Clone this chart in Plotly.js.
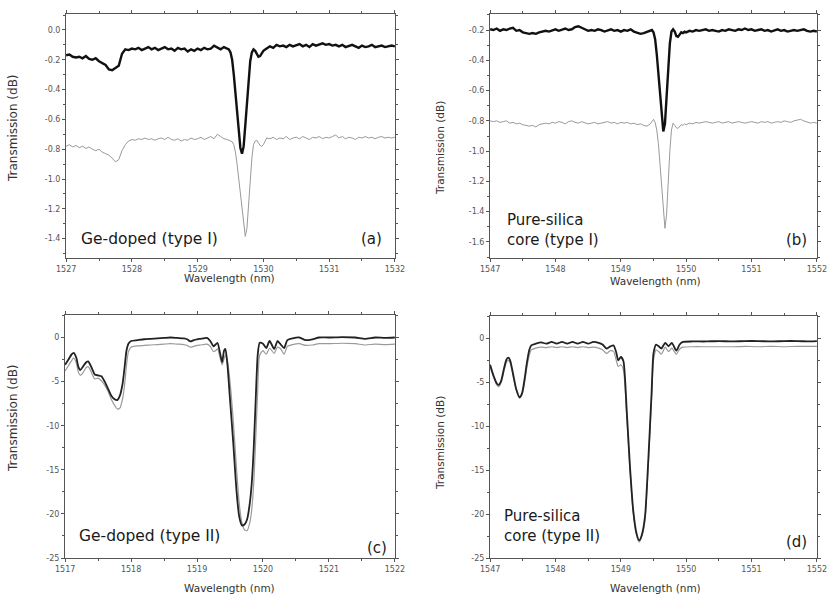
<!DOCTYPE html>
<html>
<head>
<meta charset="utf-8">
<script src="https://cdn.plot.ly/plotly-3.0.1.min.js"></script>
<style>html,body{margin:0;padding:0;background:#fff;}#chart{width:827px;height:597px;}</style>
</head>
<body>
<div id="chart"></div>
<script>
// ---------- Panel (a): Ge-doped (type I) ----------
const xA = [1527.00,1527.05,1527.10,1527.15,1527.20,1527.25,1527.30,1527.35,1527.40,1527.45,1527.50,1527.55,1527.60,1527.65,1527.70,1527.75,1527.80,1527.85,1527.90,1527.95,
1528.00,1528.05,1528.10,1528.15,1528.20,1528.25,1528.30,1528.35,1528.40,1528.45,1528.50,1528.55,1528.60,1528.65,1528.70,1528.75,1528.80,1528.85,1528.90,1528.95,
1529.00,1529.05,1529.10,1529.15,1529.20,1529.25,1529.30,1529.35,1529.40,1529.45,1529.475,1529.50,1529.525,1529.55,1529.575,1529.60,1529.625,1529.65,1529.675,1529.70,
1529.725,1529.75,1529.775,1529.80,1529.825,1529.85,1529.875,1529.90,1529.925,1529.95,1529.975,
1530.00,1530.05,1530.10,1530.15,1530.20,1530.25,1530.30,1530.35,1530.40,1530.45,1530.50,1530.55,1530.60,1530.65,1530.70,1530.75,1530.80,1530.85,1530.90,1530.95,
1531.00,1531.05,1531.10,1531.15,1531.20,1531.25,1531.30,1531.35,1531.40,1531.45,1531.50,1531.55,1531.60,1531.65,1531.70,1531.75,1531.80,1531.85,1531.90,1531.95,1532.00];
const yA_black = [-0.170,-0.165,-0.180,-0.185,-0.180,-0.190,-0.175,-0.195,-0.200,-0.190,-0.210,-0.220,-0.235,-0.265,-0.270,-0.255,-0.240,-0.160,-0.130,-0.135,
-0.125,-0.130,-0.120,-0.135,-0.125,-0.115,-0.130,-0.120,-0.135,-0.125,-0.115,-0.130,-0.125,-0.140,-0.120,-0.130,-0.125,-0.145,-0.130,-0.140,
-0.125,-0.135,-0.120,-0.130,-0.125,-0.105,-0.120,-0.130,-0.115,-0.125,-0.130,-0.150,-0.200,-0.300,-0.420,-0.550,-0.680,-0.790,-0.830,-0.780,
-0.640,-0.480,-0.330,-0.210,-0.150,-0.130,-0.140,-0.165,-0.180,-0.175,-0.160,
-0.140,-0.125,-0.110,-0.120,-0.100,-0.110,-0.105,-0.115,-0.100,-0.110,-0.105,-0.095,-0.110,-0.100,-0.115,-0.095,-0.105,-0.100,-0.090,-0.100,
-0.095,-0.105,-0.100,-0.110,-0.100,-0.115,-0.105,-0.100,-0.110,-0.120,-0.105,-0.115,-0.110,-0.100,-0.115,-0.110,-0.105,-0.115,-0.110,-0.105,-0.110];
const yA_gray = [-0.780,-0.770,-0.785,-0.775,-0.790,-0.780,-0.795,-0.785,-0.800,-0.810,-0.800,-0.820,-0.830,-0.840,-0.860,-0.885,-0.870,-0.810,-0.770,-0.745,
-0.735,-0.740,-0.730,-0.735,-0.725,-0.735,-0.730,-0.740,-0.730,-0.725,-0.735,-0.720,-0.735,-0.740,-0.730,-0.745,-0.735,-0.740,-0.725,-0.735,
-0.730,-0.720,-0.735,-0.725,-0.715,-0.730,-0.700,-0.715,-0.730,-0.735,-0.740,-0.745,-0.750,-0.770,-0.820,-0.900,-1.000,-1.100,-1.210,-1.320,
-1.385,-1.330,-1.180,-1.000,-0.860,-0.770,-0.745,-0.740,-0.760,-0.775,-0.780,
-0.770,-0.725,-0.730,-0.720,-0.735,-0.725,-0.730,-0.715,-0.735,-0.725,-0.720,-0.730,-0.715,-0.725,-0.735,-0.720,-0.725,-0.715,-0.730,-0.720,
-0.725,-0.715,-0.705,-0.725,-0.715,-0.730,-0.720,-0.725,-0.735,-0.720,-0.725,-0.715,-0.725,-0.720,-0.730,-0.720,-0.715,-0.725,-0.720,-0.725,-0.720];

// ---------- Panel (b): Pure-silica core (type I) ----------
const xB = [1547.00,1547.05,1547.10,1547.15,1547.20,1547.25,1547.30,1547.35,1547.40,1547.45,1547.50,1547.55,1547.60,1547.65,1547.70,1547.75,1547.80,1547.85,1547.90,1547.95,
1548.00,1548.05,1548.10,1548.15,1548.20,1548.25,1548.30,1548.35,1548.40,1548.45,1548.50,1548.55,1548.60,1548.65,1548.70,1548.75,1548.80,1548.85,1548.90,1548.95,
1549.00,1549.05,1549.10,1549.15,1549.20,1549.25,1549.30,1549.35,1549.40,1549.45,1549.475,1549.50,1549.525,1549.55,1549.575,1549.60,1549.625,1549.65,1549.675,1549.70,
1549.725,1549.75,1549.775,1549.80,1549.825,1549.85,1549.875,1549.90,1549.925,1549.95,1549.975,
1550.00,1550.05,1550.10,1550.15,1550.20,1550.25,1550.30,1550.35,1550.40,1550.45,1550.50,1550.55,1550.60,1550.65,1550.70,1550.75,1550.80,1550.85,1550.90,1550.95,
1551.00,1551.05,1551.10,1551.15,1551.20,1551.25,1551.30,1551.35,1551.40,1551.45,1551.50,1551.55,1551.60,1551.65,1551.70,1551.75,1551.80,1551.85,1551.90,1551.95,1552.00];
const yB_black = [-0.195,-0.200,-0.190,-0.205,-0.195,-0.200,-0.190,-0.185,-0.205,-0.200,-0.215,-0.220,-0.225,-0.220,-0.225,-0.215,-0.210,-0.205,-0.210,-0.200,
-0.195,-0.205,-0.200,-0.190,-0.200,-0.195,-0.180,-0.175,-0.185,-0.195,-0.205,-0.200,-0.205,-0.195,-0.200,-0.210,-0.200,-0.195,-0.205,-0.200,
-0.210,-0.200,-0.205,-0.195,-0.210,-0.215,-0.225,-0.220,-0.210,-0.205,-0.200,-0.215,-0.260,-0.360,-0.480,-0.620,-0.770,-0.870,-0.820,-0.640,
-0.450,-0.290,-0.210,-0.195,-0.210,-0.240,-0.245,-0.225,-0.215,-0.220,-0.210,
-0.215,-0.205,-0.210,-0.200,-0.205,-0.200,-0.195,-0.205,-0.200,-0.205,-0.210,-0.200,-0.205,-0.195,-0.200,-0.205,-0.195,-0.200,-0.190,-0.200,
-0.195,-0.205,-0.200,-0.195,-0.205,-0.200,-0.210,-0.200,-0.195,-0.205,-0.200,-0.210,-0.205,-0.200,-0.205,-0.200,-0.195,-0.205,-0.210,-0.205,-0.210];
const yB_gray = [-0.800,-0.805,-0.800,-0.810,-0.805,-0.800,-0.815,-0.810,-0.820,-0.815,-0.825,-0.830,-0.835,-0.830,-0.840,-0.825,-0.820,-0.815,-0.820,-0.810,
-0.815,-0.805,-0.810,-0.820,-0.805,-0.800,-0.810,-0.815,-0.805,-0.810,-0.820,-0.815,-0.810,-0.820,-0.815,-0.810,-0.805,-0.815,-0.810,-0.820,
-0.810,-0.815,-0.810,-0.820,-0.815,-0.825,-0.820,-0.830,-0.835,-0.820,-0.800,-0.790,-0.810,-0.860,-0.950,-1.080,-1.240,-1.400,-1.510,-1.420,
-1.200,-1.000,-0.860,-0.815,-0.830,-0.845,-0.850,-0.835,-0.825,-0.830,-0.820,
-0.825,-0.815,-0.820,-0.810,-0.815,-0.810,-0.805,-0.810,-0.815,-0.810,-0.805,-0.815,-0.810,-0.805,-0.815,-0.810,-0.805,-0.810,-0.815,-0.810,
-0.805,-0.810,-0.815,-0.805,-0.810,-0.805,-0.815,-0.810,-0.805,-0.810,-0.800,-0.805,-0.810,-0.800,-0.795,-0.790,-0.800,-0.810,-0.815,-0.810,-0.815];

// ---------- Panel (c): Ge-doped (type II) ----------
const xC = [1517.00,1517.05,1517.10,1517.13,1517.17,1517.20,1517.23,1517.27,1517.32,1517.35,1517.40,1517.45,1517.50,1517.55,1517.60,1517.65,1517.70,1517.75,1517.79,1517.83,
1517.87,1517.90,1517.93,1517.96,1518.00,1518.10,1518.20,1518.30,1518.40,1518.50,1518.60,1518.70,1518.80,1518.85,1518.90,1518.95,1519.00,1519.05,1519.10,1519.15,
1519.20,1519.25,1519.28,1519.31,1519.35,1519.38,1519.41,1519.43,1519.46,1519.50,1519.55,1519.60,1519.64,1519.68,1519.72,1519.76,1519.80,1519.83,1519.86,1519.89,
1519.92,1519.95,1520.00,1520.05,1520.10,1520.17,1520.22,1520.27,1520.32,1520.37,1520.45,1520.55,1520.65,1520.75,1520.85,1521.00,1521.20,1521.40,1521.55,1521.70,1521.85,1522.00];
const yC_black = [-3.1,-2.5,-1.9,-1.75,-2.3,-3.3,-3.7,-3.3,-2.8,-2.7,-3.4,-4.2,-4.3,-4.4,-5.0,-5.8,-6.6,-7.0,-7.1,-6.6,
-5.3,-3.5,-1.5,-0.7,-0.4,-0.3,-0.2,-0.15,-0.1,-0.05,0.0,-0.05,-0.1,-0.2,-0.45,-0.3,-0.2,-0.15,-0.1,-0.05,
-0.4,-1.0,-0.8,-0.6,-1.8,-2.8,-1.5,-1.3,-3.0,-7.0,-12.0,-17.5,-20.3,-21.3,-21.2,-20.6,-18.8,-16.5,-12.5,-7.0,
-2.0,-0.6,-0.7,-1.2,-0.4,-1.3,-0.4,-0.8,-1.2,-0.3,-0.1,0.0,-0.3,-0.2,0.0,0.0,0.05,0.0,-0.15,0.0,-0.05,0.0];
const yC_gray = [-3.8,-3.2,-2.6,-2.3,-2.9,-3.9,-4.3,-4.0,-3.4,-3.3,-4.0,-4.7,-4.6,-4.9,-5.4,-6.1,-7.0,-7.7,-8.1,-8.0,
-7.0,-5.5,-3.2,-1.6,-1.1,-0.95,-0.9,-0.85,-0.8,-0.75,-0.7,-0.75,-0.8,-0.9,-1.1,-1.0,-0.9,-0.85,-0.8,-0.75,
-1.0,-1.6,-1.5,-1.3,-2.3,-3.1,-2.4,-2.0,-2.6,-5.0,-9.5,-15.0,-18.8,-21.0,-21.8,-21.9,-21.0,-19.5,-16.5,-11.5,
-6.0,-2.0,-1.5,-1.9,-1.2,-1.8,-1.1,-1.3,-1.9,-1.0,-0.8,-0.7,-0.9,-0.85,-0.7,-0.7,-0.65,-0.7,-0.85,-0.75,-0.8,-0.75];

// ---------- Panel (d): Pure-silica core (type II) ----------
const xD = [1547.00,1547.05,1547.10,1547.13,1547.17,1547.21,1547.25,1547.28,1547.31,1547.35,1547.40,1547.45,1547.49,1547.53,1547.56,1547.60,1547.63,1547.70,1547.78,1547.86,
1547.94,1548.02,1548.10,1548.18,1548.26,1548.34,1548.42,1548.50,1548.58,1548.66,1548.72,1548.78,1548.84,1548.89,1548.93,1548.96,1549.00,1549.04,1549.09,1549.14,
1549.19,1549.24,1549.28,1549.32,1549.37,1549.42,1549.47,1549.50,1549.54,1549.58,1549.62,1549.68,1549.73,1549.78,1549.85,1549.90,1549.95,1550.10,1550.30,1550.50,
1550.70,1550.90,1551.10,1551.30,1551.50,1551.70,1551.90,1552.00];
const yD_black = [-3.0,-4.2,-5.1,-5.3,-4.8,-3.5,-2.4,-2.2,-2.6,-4.0,-5.8,-6.7,-6.2,-4.5,-2.9,-1.3,-0.8,-0.6,-0.45,-0.6,
-0.4,-0.6,-0.4,-0.6,-0.4,-0.6,-0.4,-0.6,-0.4,-0.5,-0.7,-1.15,-0.9,-0.8,-1.6,-2.5,-2.1,-2.6,-8.2,-14.6,
-19.6,-22.2,-23.0,-22.4,-20.3,-13.9,-6.3,-1.7,-0.7,-0.9,-1.15,-0.5,-0.9,-0.5,-1.4,-0.7,-0.4,-0.35,-0.35,-0.3,
-0.35,-0.3,-0.3,-0.35,-0.3,-0.3,-0.35,-0.3];
const yD_gray = [-3.2,-4.4,-5.3,-5.5,-5.0,-3.8,-2.7,-2.5,-2.9,-4.2,-5.9,-6.8,-6.4,-4.9,-3.4,-1.9,-1.3,-1.1,-1.0,-1.05,
-0.95,-1.05,-0.95,-1.05,-0.95,-1.05,-0.95,-1.05,-1.0,-1.1,-1.3,-1.7,-1.4,-1.5,-2.5,-3.2,-3.0,-3.6,-8.8,-15.0,
-19.9,-22.4,-23.2,-22.6,-20.6,-14.5,-7.0,-2.5,-1.3,-1.5,-1.8,-1.0,-1.5,-1.1,-1.8,-1.2,-1.0,-0.95,-0.95,-0.95,
-0.95,-0.9,-0.95,-0.9,-0.95,-0.9,-0.9,-0.9];

// ---------- tick labels ----------
const tickA = [0, -0.2, -0.4, -0.6, -0.8, -1.0, -1.2, -1.4];
const tickA_txt = ["0.0","-0.2","-0.4","-0.6","-0.8","-1.0","-1.2","-1.4"];
const tickB = [-0.2, -0.4, -0.6, -0.8, -1.0, -1.2, -1.4, -1.6];
const tickB_txt = ["-0.2","-0.4","-0.6","-0.8","-1.0","-1.2","-1.4","-1.6"];
const tickCD = [0, -5, -10, -15, -20, -25];
const tickCD_txt = ["0","-5","-10","-15","-20","-25"];
const xtA = [1527,1528,1529,1530,1531,1532];
const xtB = [1547,1548,1549,1550,1551,1552];
const xtC = [1517,1518,1519,1520,1521,1522];
const xtD = [1547,1548,1549,1550,1551,1552];

const labels = ["Ge-doped (type I)", "Pure-silica<br>core (type I)", "Ge-doped (type II)", "Pure-silica<br>core (type II)"];
const panelTags = ["(a)", "(b)", "(c)", "(d)"];
const xTitle = "Wavelength (nm)";
const yTitle = "Transmission (dB)";

// ---------- layout helpers ----------
const W = 827, H = 597;
const px = v => v / W;
const py = v => 1 - v / H;
const FONT = "DejaVu Sans, Arial, sans-serif";
const AX = '#555';

function xaxis(dom, vals, anchor) {
  return {
    domain: [px(dom[0]), px(dom[1])], range: [vals[0] - 0.002, vals[vals.length-1] + 0.002], anchor: anchor,
    tickvals: vals, ticktext: vals.map(String), ticklabeloverflow: 'allow',
    showline: true, linecolor: AX, linewidth: 1, mirror: 'ticks',
    ticks: 'outside', ticklen: 3, tickcolor: AX, tickwidth: 1,
    minor: {ticks: 'outside', ticklen: 2, dtick: 0.5, tickcolor: AX},
    showgrid: false, zeroline: false, fixedrange: true,
    tickfont: {family: FONT, size: 8, color: '#555'}
  };
}
function yaxis(dom, rng, vals, txt, minorD, anchor) {
  return {
    domain: [py(dom[1]), py(dom[0])], range: rng, anchor: anchor,
    tickvals: vals, ticktext: txt, ticklabeloverflow: 'allow',
    showline: true, linecolor: AX, linewidth: 1, mirror: 'ticks',
    ticks: 'outside', ticklen: 3, tickcolor: AX, tickwidth: 1,
    minor: {ticks: 'outside', ticklen: 2, dtick: minorD, tickcolor: AX},
    showgrid: false, zeroline: false, fixedrange: true,
    tickfont: {family: FONT, size: 8, color: '#555'}
  };
}

const blackTop = {color: '#111', width: 2.4};
const grayTop = {color: '#9a9a9a', width: 1};
const blackBot = {color: '#222', width: 1.8};
const grayBot = {color: '#9a9a9a', width: 1.2};

const data = [
  {x: xA, y: yA_gray, xaxis: 'x', yaxis: 'y', mode: 'lines', line: grayTop},
  {x: xA, y: yA_black, xaxis: 'x', yaxis: 'y', mode: 'lines', line: blackTop},
  {x: xB, y: yB_gray, xaxis: 'x2', yaxis: 'y2', mode: 'lines', line: grayTop},
  {x: xB, y: yB_black, xaxis: 'x2', yaxis: 'y2', mode: 'lines', line: blackTop},
  {x: xC, y: yC_gray, xaxis: 'x3', yaxis: 'y3', mode: 'lines', line: Object.assign({shape: 'spline', smoothing: 0.6}, grayBot)},
  {x: xC, y: yC_black, xaxis: 'x3', yaxis: 'y3', mode: 'lines', line: Object.assign({shape: 'spline', smoothing: 0.6}, blackBot)},
  {x: xD, y: yD_gray, xaxis: 'x4', yaxis: 'y4', mode: 'lines', line: Object.assign({shape: 'spline', smoothing: 0.6}, grayBot)},
  {x: xD, y: yD_black, xaxis: 'x4', yaxis: 'y4', mode: 'lines', line: Object.assign({shape: 'spline', smoothing: 0.6}, blackBot)}
];

function ann(text, x, y, size, xanchor, extra) {
  return Object.assign({text: text, x: px(x), y: py(y), xref: 'paper', yref: 'paper',
    showarrow: false, xanchor: xanchor, yanchor: 'middle',
    font: {family: FONT, size: size, color: '#1a1a1a'}, align: 'left'}, extra || {});
}
const TITLEF = s => ({font: {family: FONT, size: s, color: '#333'}});

const annotations = [
  ann(labels[0], 79, 239, 15.5, 'left'),
  ann(panelTags[0], 384, 239, 15, 'right'),
  ann(labels[1], 505, 230, 15, 'left'),
  ann(panelTags[1], 809, 240, 15, 'right'),
  ann(labels[2], 77, 536, 15.5, 'left'),
  ann(panelTags[2], 389, 548, 15, 'right'),
  ann(labels[3], 502, 526, 15, 'left'),
  ann(panelTags[3], 809, 542, 15, 'right'),
  ann(xTitle, 230, 278, 10.5, 'center', TITLEF(10.5)),
  ann(xTitle, 655, 281, 10.5, 'center', TITLEF(10.5)),
  ann(xTitle, 230, 588, 10.5, 'center', TITLEF(10.5)),
  ann(xTitle, 655, 588, 10.5, 'center', TITLEF(10.5)),
  ann(yTitle, 13, 128, 12, 'center', Object.assign({textangle: -90}, TITLEF(12))),
  ann(yTitle, 440, 148, 10.5, 'center', Object.assign({textangle: -90}, TITLEF(10.5))),
  ann(yTitle, 13, 418, 12, 'center', Object.assign({textangle: -90}, TITLEF(12))),
  ann(yTitle, 440, 443, 10.5, 'center', Object.assign({textangle: -90}, TITLEF(10.5)))
];

const layout = {
  width: W, height: H, margin: {l: 0, r: 0, t: 0, b: 0},
  paper_bgcolor: '#fff', plot_bgcolor: '#fff', showlegend: false,
  xaxis: xaxis([66, 395], xtA, 'y'),
  yaxis: yaxis([14, 258], [-1.53, 0.107], tickA, tickA_txt, 0.1, 'x'),
  xaxis2: xaxis([490, 817], xtB, 'y2'),
  yaxis2: yaxis([14, 258], [-1.706, -0.094], tickB, tickB_txt, 0.1, 'x2'),
  xaxis3: xaxis([65, 395], xtC, 'y3'),
  yaxis3: yaxis([315, 558], [-25, 2.55], tickCD, tickCD_txt, 2.5, 'x3'),
  xaxis4: xaxis([490, 817], xtD, 'y4'),
  yaxis4: yaxis([316, 558], [-25, 2.55], tickCD, tickCD_txt, 2.5, 'x4'),
  annotations: annotations
};

Plotly.newPlot('chart', data, layout, {displayModeBar: false, staticPlot: true});
</script>
</body>
</html>
